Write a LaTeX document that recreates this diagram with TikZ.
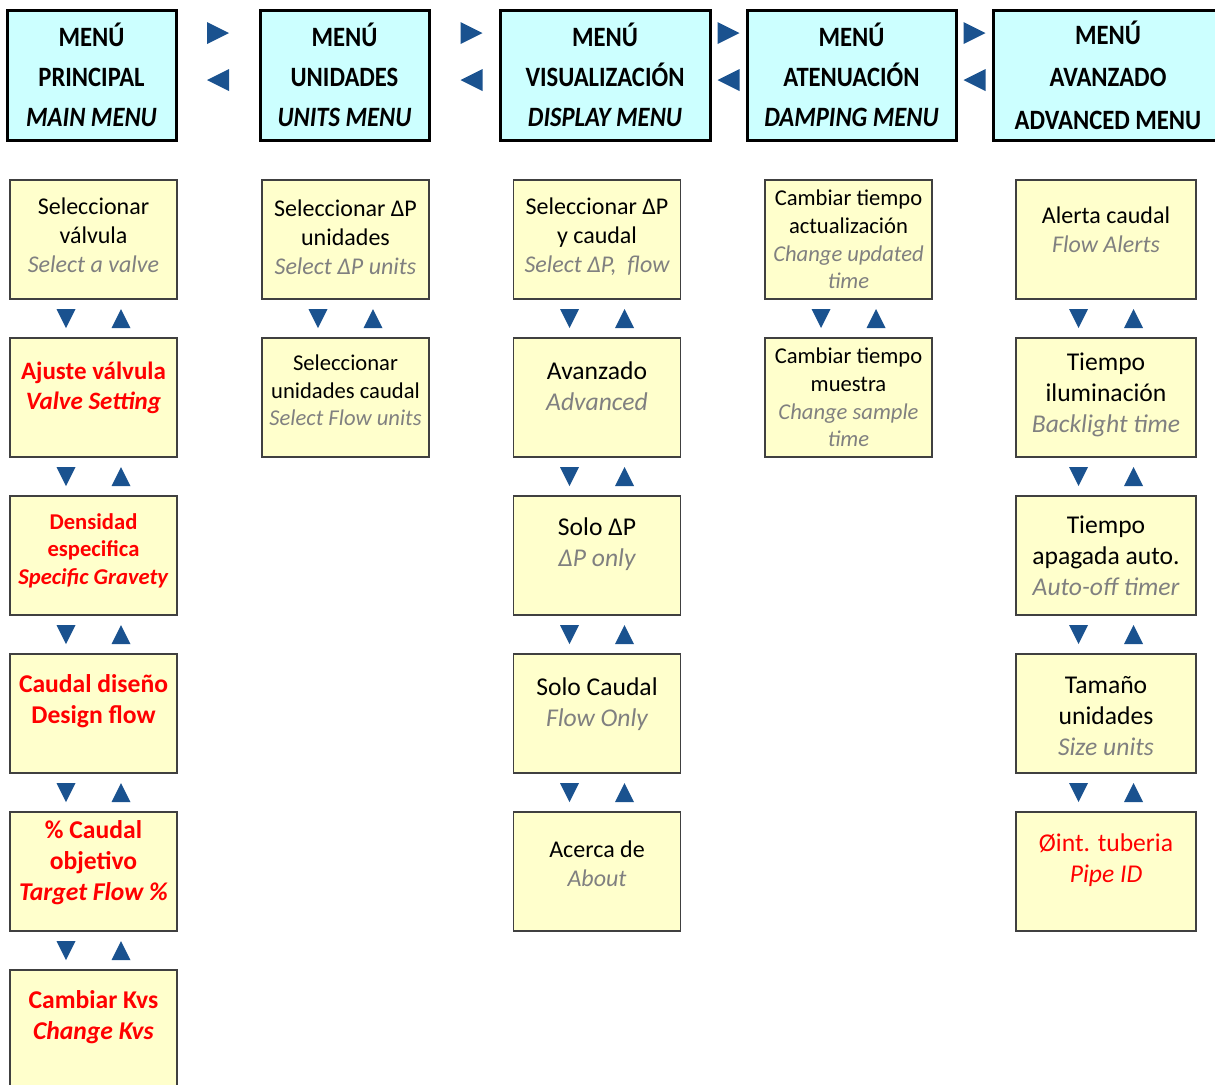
\documentclass[tikz,border=0pt]{standalone}
\usepackage{fontspec}
\setmainfont{Carlito}
\newfontfamily\cabfont[FakeStretch=0.88]{Carlito}
\usetikzlibrary{positioning,calc}
\definecolor{cabecera}{HTML}{CCFFFF}
\definecolor{opcionfill}{HTML}{FFFFCC}
\definecolor{flecha}{RGB}{26,82,143}
\definecolor{gris}{RGB}{128,128,128}
\definecolor{rojo}{RGB}{255,0,0}
\newcommand{\en}[1]{{\color{gris}\itshape #1}}
\tikzstyle{cab} = [rectangle, draw=black, line width=1.5pt, fill=cabecera,
    align=center, inner sep=0pt, minimum height=65pt,
    font=\cabfont\fontsize{14}{20}\selectfont\bfseries]
\tikzstyle{opcion} = [rectangle, draw=black!75, line width=0.7pt, fill=opcionfill,
    minimum width=83.5pt, minimum height=59.5pt, inner sep=0pt, node distance=79pt]
\tikzstyle{txt} = [align=center, inner sep=0pt, font=\fontsize{12}{14.5}\selectfont]
\tikzstyle{big} = [font=\fontsize{12.8}{15.5}\selectfont]
\tikzstyle{sml} = [font=\fontsize{11.3}{13.8}\selectfont]
\tikzstyle{aviso} = [text=rojo, font=\fontsize{12.8}{15.5}\selectfont\bfseries]
\tikzset{
  updown/.pic={
    \fill[flecha] (-37,-9.5) -- (-18,-9.5) -- (-27.5,9.5) -- cycle;
    \fill[flecha] (18,9.5) -- (37,9.5) -- (27.5,-9.5) -- cycle;
  },
  leftright/.pic={
    \fill[flecha] (-11,-53) -- (11,-42) -- (-11,-31) -- cycle;
    \fill[flecha] (11,-6) -- (-11,5) -- (11,16) -- cycle;
  }
}
\begin{document}
\begin{tikzpicture}[x=0.5pt, y=-0.5pt]
    \useasboundingbox (0,0) rectangle (1215,1084);
    \clip (0,0) rectangle (1215,1084);
    % Headers
    \node [cab, minimum width=84.5pt] (h1) at (91.5,75) {MENÚ\\PRINCIPAL\\\textit{MAIN MENU}};
    \node [cab, minimum width=84.5pt] (h2) at (344.5,75) {MENÚ\\UNIDADES\\\textit{UNITS MENU}};
    \node [cab, minimum width=105pt] (h3) at (605,75) {MENÚ\\VISUALIZACIÓN\\\textit{DISPLAY MENU}};
    \node [cab, minimum width=104.5pt] (h4) at (851.5,75) {MENÚ\\ATENUACIÓN\\\textit{DAMPING MENU}};
    \node [cab, minimum width=115pt, font=\cabfont\fontsize{14}{21.25}\selectfont\bfseries] (h5) at (1108,75) {MENÚ\\AVANZADO\\ADVANCED MENU};

    % Place nodes
    \node [opcion] (a1) at (93.5,239.5) {};
    \node [opcion, below of=a1] (a2) {};
    \node [opcion, below of=a2] (a3) {};
    \node [opcion, below of=a3] (a4) {};
    \node [opcion, below of=a4] (a5) {};
    \node [opcion, below of=a5] (a6) {};
    \node [opcion] (b1) at (345.5,239.5) {};
    \node [opcion, below of=b1] (b2) {};
    \node [opcion] (c1) at (597,239.5) {};
    \node [opcion, below of=c1] (c2) {};
    \node [opcion, below of=c2] (c3) {};
    \node [opcion, below of=c3] (c4) {};
    \node [opcion, below of=c4] (c5) {};
    \node [opcion] (d1) at (848.5,239.5) {};
    \node [opcion, below of=d1] (d2) {};
    \node [opcion, minimum width=90pt] (e1) at (1106,239.5) {};
    \node [opcion, minimum width=90pt, below of=e1] (e2) {};
    \node [opcion, minimum width=90pt, below of=e2] (e3) {};
    \node [opcion, minimum width=90pt, below of=e3] (e4) {};
    \node [opcion, minimum width=90pt, below of=e4] (e5) {};

    % Texts
    \node [txt] at ([yshift=2.25pt]a1.center) {Seleccionar\\válvula\\\en{Select a valve}};
    \node [txt, aviso, font=\fontsize{12.5}{15}\selectfont\bfseries] at ([yshift=4.75pt]a2.center) {Ajuste válvula\\\textit{Valve Setting}};
    \node [txt, aviso, font=\fontsize{11.3}{13.8}\selectfont\bfseries] at ([yshift=2.5pt]a3.center) {Densidad\\especifica\\\textit{Specific Gravety}};
    \node [txt, aviso] at ([yshift=6pt]a4.center) {Caudal diseño\\Design flow};
    \node [txt, aviso] at ([yshift=4.25pt]a5.center) {\%~Caudal\\objetivo\\\textit{Target Flow \%}};
    \node [txt, aviso] at ([yshift=6pt]a6.center) {Cambiar Kvs\\\textit{Change Kvs}};
    \node [txt] at ([yshift=1.25pt]b1.center) {Seleccionar ΔP\\unidades\\\en{Select ΔP units}};
    \node [txt, sml] at ([yshift=3.5pt]b2.center) {Seleccionar\\unidades caudal\\\en{Select Flow units}};
    \node [txt] at ([yshift=1.25pt]c1.center) {Seleccionar ΔP\\y caudal\\\en{Select ΔP,\ \ flow}};
    \node [txt, big] at ([yshift=5.5pt]c2.center) {Avanzado\\\en{Advanced}};
    \node [txt, big] at ([yshift=5.75pt]c3.center) {Solo ΔP\\\en{ΔP only}};
    \node [txt, big] at ([yshift=4.5pt]c4.center) {Solo Caudal\\\en{Flow Only}};
    \node [txt] at ([yshift=3.75pt]c5.center) {Acerca de\\\en{About}};
    \node [txt, sml] at (d1.center) {Cambiar tiempo\\actualización\\\en{Change updated}\\\en{time}};
    \node [txt, sml] at (d2.center) {Cambiar tiempo\\muestra\\\en{Change sample}\\\en{time}};
    \node [txt] at ([yshift=5pt]e1.center) {Alerta caudal\\\en{Flow Alerts}};
    \node [txt, big] at ([yshift=1.25pt]e2.center) {Tiempo\\iluminación\\\en{Backlight time}};
    \node [txt, big] at (e3.center) {Tiempo\\apagada auto.\\\en{Auto-off timer}};
    \node [txt, big] at ([yshift=-1.25pt]e4.center) {Tamaño\\unidades\\\en{Size units}};
    \node [txt, big, text=rojo] at ([yshift=5.5pt]e5.center) {Øint. tuberia\\\textit{Pipe ID}};

    % Draw arrows
    \pic at ($(h1.east)!.5!(h2.west)$) {leftright};
    \pic at ($(h2.east)!.5!(h3.west)+(7,0)$) {leftright};
    \pic at ($(h3.east)!.5!(h4.west)$) {leftright};
    \pic at ($(h4.east)!.5!(h5.west)$) {leftright};
    \pic at ($(a1)!.5!(a2)$) {updown};
    \pic at ($(a2)!.5!(a3)$) {updown};
    \pic at ($(a3)!.5!(a4)$) {updown};
    \pic at ($(a4)!.5!(a5)$) {updown};
    \pic at ($(a5)!.5!(a6)$) {updown};
    \pic at ($(b1)!.5!(b2)$) {updown};
    \pic at ($(c1)!.5!(c2)$) {updown};
    \pic at ($(c2)!.5!(c3)$) {updown};
    \pic at ($(c3)!.5!(c4)$) {updown};
    \pic at ($(c4)!.5!(c5)$) {updown};
    \pic at ($(d1)!.5!(d2)$) {updown};
    \pic at ($(e1)!.5!(e2)$) {updown};
    \pic at ($(e2)!.5!(e3)$) {updown};
    \pic at ($(e3)!.5!(e4)$) {updown};
    \pic at ($(e4)!.5!(e5)$) {updown};
\end{tikzpicture}
\end{document}
